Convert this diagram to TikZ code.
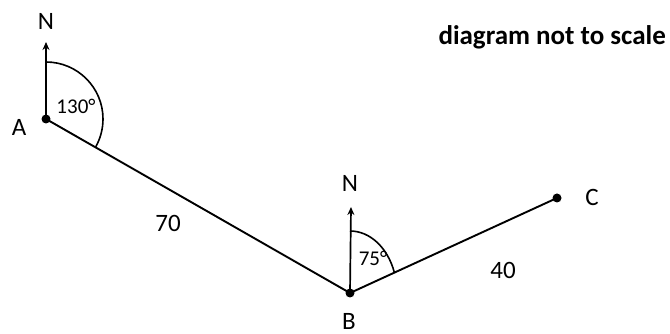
\documentclass[tikz,border=0pt]{standalone}
\usepackage{fontspec}
\setmainfont{Carlito}
\usetikzlibrary{arrows.meta}
\begin{document}
\begin{tikzpicture}[x=1pt,y=1pt,
  lab/.style={font=\fontsize{25}{29}\selectfont, inner sep=0pt},
  ang/.style={font=\fontsize{21}{25}\selectfont, inner sep=0pt},
  seg/.style={line width=1.9pt},
  north/.style={line width=1.7pt,-{Stealth[length=8pt,width=7pt]}},
  arcl/.style={line width=1.6pt},
  dot/.style={circle,fill=black,inner sep=0pt,minimum size=9pt}]
\useasboundingbox (0,0) rectangle (670,334);
\node[dot] (A) at (46,215) {};
\node[dot] (B) at (350,41) {};
\node[dot] (C) at (557,136) {};
\coordinate (NA) at (46,292);
\coordinate (NB) at (351,127);
\draw[seg] (A.center) -- (B.center) -- (C.center);
\draw[north] (A.center) -- (NA);
\draw[north] (B.center) -- (NB);
\node[lab] (nA) at (46,313) {N};
\node[lab] (nB) at (350,151) {N};
\node[lab] (lA) at (19,207) {A};
\node[lab] (lB) at (349,13) {B};
\node[lab] (lC) at (592,137) {C};
\node[lab] (d70) at (168,111) {70};
\node[lab] (d40) at (503,64) {40};
\draw[arcl] (46,272) arc[start angle=90,end angle=-29.8,radius=57];
\draw[arcl] (350,103) arc[start angle=90,end angle=19.2,x radius=47,y radius=62];
\node[ang] (a130) at (76,228) {130°};
\node[ang] (a75) at (373,76) {75°};
\node[font=\fontsize{27}{30}\selectfont\bfseries, inner sep=0pt, anchor=east] (title) at (666,297) {diagram not to scale};
\end{tikzpicture}
\end{document}
